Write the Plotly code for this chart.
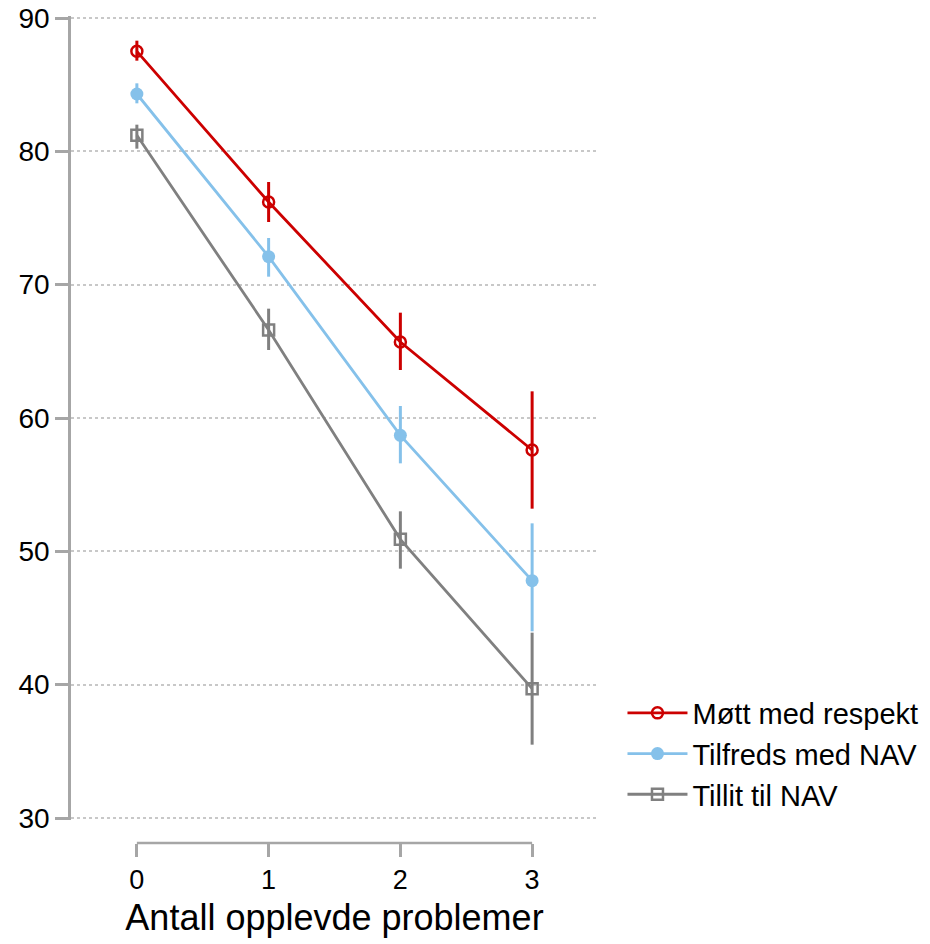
import plotly.graph_objects as go

# data
problems = [0, 1, 2, 3]

respekt = [87.5, 76.2, 65.7, 57.6]
respekt_hi = [88.3, 77.7, 67.9, 62.0]
respekt_lo = [86.8, 74.7, 63.6, 53.2]

tilfreds = [84.3, 72.1, 58.7, 47.8]
tilfreds_hi = [85.1, 73.5, 60.9, 52.1]
tilfreds_lo = [83.6, 70.6, 56.6, 44.0]

tillit = [81.2, 66.6, 50.9, 39.7]
tillit_hi = [82.0, 68.2, 53.0, 43.9]
tillit_lo = [80.2, 65.1, 48.7, 35.5]

y_ticks = [30, 40, 50, 60, 70, 80, 90]

series = [
    ('Møtt med respekt', respekt, respekt_hi, respekt_lo, '#CC0000',
     dict(symbol='circle-open', size=11, line=dict(width=2.5, color='#CC0000'))),
    ('Tilfreds med NAV', tilfreds, tilfreds_hi, tilfreds_lo, '#85C1EA',
     dict(symbol='circle', size=13)),
    ('Tillit til NAV', tillit, tillit_hi, tillit_lo, '#808080',
     dict(symbol='square-open', size=11, line=dict(width=2.5, color='#808080'))),
]

fig = go.Figure()
for name, vals, hi, lo, col, mk in series:
    fig.add_trace(go.Scatter(
        x=problems, y=vals, name=name, mode='lines+markers',
        line=dict(color=col, width=2.8),
        marker=dict(color=col, **mk),
        error_y=dict(type='data', symmetric=False,
                     array=[h - v for h, v in zip(hi, vals)],
                     arrayminus=[v - l for v, l in zip(vals, lo)],
                     color=col, thickness=3, width=0),
    ))

axis_grey = '#A6A6A6'
fig.update_layout(
    width=930, height=944,
    margin=dict(l=71, r=0, t=16, b=101),
    plot_bgcolor='white', paper_bgcolor='white',
    font=dict(family='Liberation Sans, Arial', size=28, color='black'),
    showlegend=True,
    legend=dict(x=0.642, xanchor='left', y=0.188, yanchor='top',
                font=dict(size=29), tracegroupgap=0, itemwidth=60),
    xaxis=dict(domain=[0, 0.6135], range=[-0.5, 3.5], anchor='free', position=0,
               tickvals=problems, ticks='outside', ticklen=13, tickwidth=2.5,
               tickcolor=axis_grey, showline=False, showgrid=False, zeroline=False,
               tickfont=dict(size=27),
               title=dict(text='Antall opplevde problemer', font=dict(size=36), standoff=10)),
    # range padded a hair so the 30 and 90 gridlines are kept
    yaxis=dict(domain=[0.0278, 1], range=[29.85, 90.15], tickvals=y_ticks,
               ticks='outside', ticklen=13, tickwidth=2.5, tickcolor=axis_grey,
               ticklabeloverflow='allow',
               showline=True, linecolor=axis_grey, linewidth=2.5,
               showgrid=True, gridcolor='#C8C8C8', griddash='dot', gridwidth=1.5,
               zeroline=False, tickfont=dict(size=28)),
)

# bottom axis line only spans the observed categories
fig.add_shape(type='line', xref='x', yref='paper',
              x0=min(problems), x1=max(problems), y0=0, y1=0,
              line=dict(color=axis_grey, width=2.5))

fig.write_html("out.html", config={'displayModeBar': False},
               post_script="document.body.style.margin='0';")
